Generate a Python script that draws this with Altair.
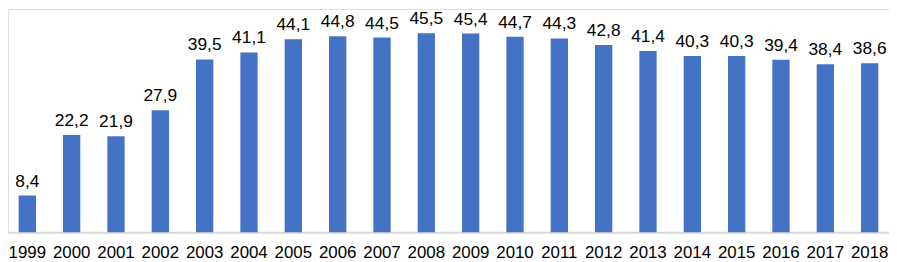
import altair as alt
import pandas as pd

years = [str(y) for y in range(1999, 2019)]
values = [8.4, 22.2, 21.9, 27.9, 39.5, 41.1, 44.1, 44.8, 44.5, 45.5,
          45.4, 44.7, 44.3, 42.8, 41.4, 40.3, 40.3, 39.4, 38.4, 38.6]

df = pd.DataFrame({"year": years, "value": values})

x = alt.X("year:N", sort=years, title=None,
          scale=alt.Scale(paddingInner=0.61, paddingOuter=0.241),
          axis=alt.Axis(labelAngle=0, ticks=False, domain=True,
                        domainColor="#d9d9d9", domainWidth=2,
                        labelFont="Liberation Sans", labelFontSize=17,
                        labelColor="#000000", labelPadding=13))
y = alt.Y("value:Q", title=None,
          scale=alt.Scale(domain=[0, 51], nice=False),
          axis=None)

bars = alt.Chart(df).mark_bar(color="#4472C4").encode(x=x, y=y)

text = alt.Chart(df).transform_calculate(
    label="replace(format(datum.value, '.1f'), '.', ',')"
).mark_text(font="Liberation Sans", fontSize=17.5, color="#000000",
            baseline="alphabetic", dy=-9).encode(
    x=alt.X("year:N", sort=years),
    y="value:Q",
    text="label:N",
)

chart = (bars + text).properties(
    width=888.5, height=225,
    padding={"left": 0, "top": 0, "right": 0, "bottom": 30},
    autosize=alt.AutoSizeParams(type="none"),
).configure_view(stroke=None).configure(background="white")

chart.save("out.html", embed_options={"renderer": "svg", "actions": False})
